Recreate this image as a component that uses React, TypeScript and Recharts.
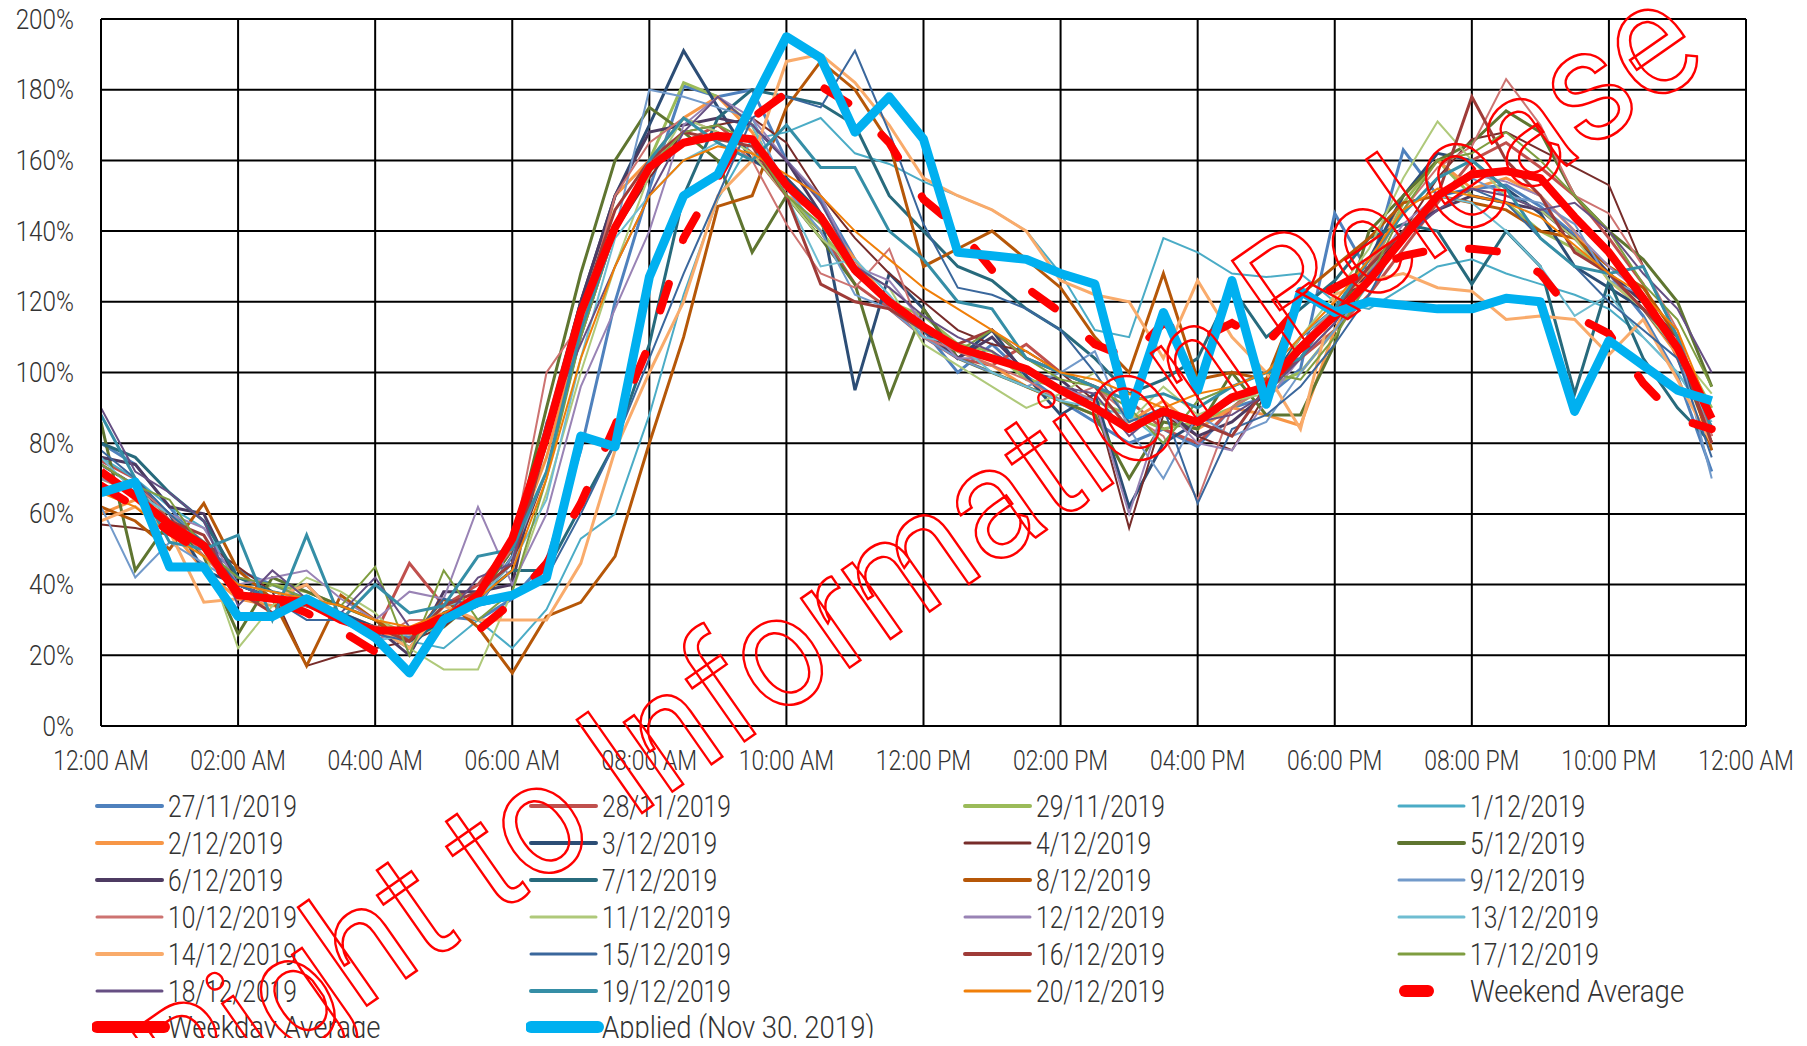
import { LineChart, Line, XAxis, YAxis, CartesianGrid } from "recharts";

// half-hour slots of the day
const slots = [
  "00:00", "00:30", "01:00", "01:30", "02:00", "02:30", "03:00", "03:30",
  "04:00", "04:30", "05:00", "05:30", "06:00", "06:30", "07:00", "07:30",
  "08:00", "08:30", "09:00", "09:30", "10:00", "10:30", "11:00", "11:30",
  "12:00", "12:30", "13:00", "13:30", "14:00", "14:30", "15:00", "15:30",
  "16:00", "16:30", "17:00", "17:30", "18:00", "18:30", "19:00", "19:30",
  "20:00", "20:30", "21:00", "21:30", "22:00", "22:30", "23:00", "23:30",
];

const xTicks = [0, 4, 8, 12, 16, 20, 24, 28, 32, 36, 40, 44, 48];
const xTickLabels = [
  "12:00 AM", "02:00 AM", "04:00 AM", "06:00 AM", "08:00 AM", "10:00 AM", "12:00 PM",
  "02:00 PM", "04:00 PM", "06:00 PM", "08:00 PM", "10:00 PM", "12:00 AM",
];
const yTicks = [0, 20, 40, 60, 80, 100, 120, 140, 160, 180, 200];

// daily profiles (% of mean)
const d2711 = [80, 74, 62, 50, 44, 40, 36, 31, 28, 25, 31, 30, 36, 47, 78, 120, 152, 181, 178, 180, 160, 149, 132, 118, 112, 100, 108, 99, 92, 86, 80, 84, 79, 90, 93, 101, 145, 128, 163, 150, 152, 153, 147, 139, 128, 116, 99, 72];
const d2811 = [75, 70, 58, 52, 40, 36, 34, 30, 26, 46, 34, 40, 52, 85, 120, 140, 160, 165, 170, 162, 150, 140, 125, 118, 110, 104, 102, 108, 100, 96, 92, 84, 80, 90, 98, 104, 112, 122, 135, 148, 160, 165, 158, 150, 138, 125, 104, 82];
const d2911 = [70, 66, 60, 52, 36, 40, 38, 34, 30, 26, 28, 36, 50, 80, 115, 140, 160, 182, 178, 170, 150, 140, 128, 120, 116, 108, 106, 98, 96, 92, 88, 84, 86, 90, 96, 100, 112, 128, 148, 160, 150, 148, 140, 135, 128, 120, 108, 90];
const d0112 = [76, 70, 62, 56, 42, 38, 36, 30, 28, 24, 22, 30, 22, 33, 53, 60, 88, 122, 149, 166, 168, 172, 162, 159, 154, 150, 146, 140, 128, 112, 110, 138, 134, 128, 127, 128, 120, 118, 124, 130, 132, 128, 125, 122, 118, 110, 100, 85];
const d0212 = [60, 64, 56, 44, 36, 34, 34, 32, 28, 26, 30, 36, 50, 76, 112, 150, 160, 172, 178, 168, 150, 145, 132, 120, 112, 106, 102, 96, 92, 88, 86, 92, 84, 90, 88, 85, 112, 130, 150, 160, 152, 155, 150, 140, 126, 118, 105, 80];
const d0312 = [74, 68, 60, 44, 40, 36, 34, 32, 28, 24, 30, 34, 48, 82, 120, 150, 170, 191, 175, 160, 155, 145, 95, 128, 118, 104, 112, 99, 88, 94, 62, 80, 86, 92, 96, 110, 118, 132, 150, 162, 160, 152, 145, 130, 124, 118, 106, 80];
const d0412 = [57, 56, 54, 52, 45, 38, 17, 20, 22, 24, 28, 36, 46, 72, 110, 140, 155, 168, 170, 172, 165, 150, 138, 128, 120, 112, 108, 106, 100, 92, 56, 88, 82, 78, 94, 108, 118, 128, 140, 155, 166, 168, 163, 158, 153, 130, 110, 78];
const d0512 = [86, 44, 58, 48, 26, 42, 38, 34, 30, 22, 34, 36, 50, 90, 128, 160, 175, 168, 160, 134, 150, 138, 125, 93, 118, 104, 100, 96, 92, 88, 70, 86, 84, 100, 88, 88, 108, 140, 150, 160, 165, 174, 168, 150, 140, 132, 120, 96];
const d0612 = [76, 74, 62, 60, 40, 36, 40, 30, 28, 20, 38, 38, 40, 84, 120, 150, 168, 170, 172, 170, 160, 145, 128, 120, 112, 104, 110, 100, 98, 90, 84, 90, 82, 86, 94, 106, 118, 130, 140, 146, 150, 148, 146, 138, 128, 120, 110, 84];
const d0712 = [80, 76, 66, 58, 42, 38, 36, 30, 28, 22, 32, 36, 44, 44, 62, 80, 108, 150, 172, 180, 178, 176, 170, 150, 140, 130, 126, 118, 112, 104, 94, 98, 104, 124, 110, 118, 126, 138, 142, 140, 125, 140, 130, 94, 126, 104, 90, 80];
const d0812 = [62, 58, 50, 63, 44, 36, 17, 37, 30, 24, 36, 28, 15, 31, 35, 48, 80, 110, 147, 150, 175, 188, 180, 165, 130, 135, 140, 132, 124, 110, 100, 128, 98, 100, 98, 122, 130, 138, 148, 150, 148, 146, 140, 138, 130, 124, 110, 78];
const d0912 = [62, 42, 52, 46, 40, 36, 34, 30, 24, 28, 30, 34, 48, 72, 110, 140, 180, 178, 175, 172, 152, 140, 122, 118, 110, 104, 100, 96, 100, 106, 84, 70, 88, 82, 86, 100, 112, 125, 140, 150, 155, 150, 148, 142, 126, 122, 108, 70];
const d1012 = [74, 68, 60, 48, 38, 36, 34, 32, 24, 30, 30, 38, 50, 100, 114, 150, 165, 172, 168, 160, 142, 128, 124, 135, 110, 106, 102, 98, 92, 96, 88, 82, 64, 90, 96, 108, 118, 130, 146, 158, 164, 183, 170, 150, 145, 130, 112, 82];
const d1112 = [72, 64, 58, 50, 22, 34, 42, 38, 32, 22, 16, 16, 38, 66, 100, 130, 156, 172, 168, 162, 150, 138, 130, 124, 108, 102, 96, 90, 94, 100, 86, 96, 88, 92, 94, 110, 122, 135, 155, 171, 160, 150, 146, 138, 126, 118, 106, 94];
const d1212 = [70, 66, 60, 56, 40, 42, 44, 36, 30, 38, 36, 62, 40, 60, 96, 118, 140, 170, 178, 172, 160, 150, 130, 126, 114, 104, 104, 100, 96, 92, 60, 90, 80, 78, 92, 104, 114, 128, 142, 150, 156, 154, 150, 140, 130, 122, 108, 80];
const d1312 = [76, 66, 60, 52, 40, 38, 36, 32, 24, 26, 34, 36, 46, 64, 104, 138, 150, 160, 165, 170, 150, 130, 132, 122, 110, 108, 100, 96, 92, 90, 88, 80, 92, 96, 100, 110, 118, 130, 140, 150, 148, 140, 130, 116, 122, 110, 100, 86];
const d1412 = [58, 62, 55, 35, 36, 36, 40, 30, 28, 22, 34, 30, 30, 30, 46, 78, 100, 120, 150, 160, 188, 190, 182, 170, 155, 150, 146, 140, 126, 122, 120, 104, 126, 110, 100, 84, 122, 126, 128, 124, 123, 115, 116, 115, 105, 115, 98, 80];
const d1512 = [78, 70, 60, 52, 40, 36, 30, 30, 26, 24, 36, 34, 36, 42, 60, 80, 104, 128, 150, 172, 178, 175, 191, 168, 142, 124, 122, 118, 112, 100, 86, 90, 63, 84, 88, 96, 108, 122, 140, 150, 152, 148, 138, 130, 120, 112, 104, 76];
const d1612 = [72, 66, 58, 54, 38, 32, 36, 30, 28, 24, 34, 38, 46, 80, 118, 146, 160, 168, 166, 164, 150, 125, 120, 118, 112, 108, 112, 104, 100, 96, 84, 90, 86, 82, 96, 104, 118, 130, 140, 150, 178, 160, 150, 134, 128, 118, 108, 80];
const d1712 = [74, 68, 64, 50, 42, 40, 36, 34, 45, 20, 44, 30, 38, 70, 110, 140, 158, 168, 170, 165, 150, 142, 128, 120, 112, 106, 112, 104, 98, 96, 90, 80, 92, 96, 100, 98, 110, 126, 146, 160, 162, 168, 160, 150, 140, 125, 115, 96];
const d1812 = [90, 72, 66, 58, 34, 44, 36, 32, 42, 28, 30, 42, 46, 86, 108, 130, 150, 168, 178, 170, 160, 148, 130, 124, 116, 110, 106, 100, 96, 94, 82, 90, 86, 88, 94, 104, 114, 128, 138, 146, 152, 150, 146, 148, 140, 128, 118, 100];
const d1912 = [88, 70, 52, 50, 54, 30, 54, 30, 40, 32, 34, 48, 50, 72, 112, 140, 160, 172, 165, 160, 170, 158, 158, 140, 132, 120, 118, 104, 100, 96, 92, 94, 90, 96, 100, 104, 118, 132, 145, 155, 160, 152, 138, 130, 128, 130, 110, 84];
const d2012 = [66, 62, 54, 48, 40, 38, 36, 34, 30, 28, 32, 36, 44, 70, 104, 130, 150, 160, 164, 162, 156, 150, 140, 132, 124, 118, 112, 106, 100, 98, 94, 90, 94, 96, 100, 110, 120, 132, 146, 152, 150, 148, 144, 136, 128, 122, 112, 88];

const weekendAverage = [68, 62, 55, 49, 38, 36, 32, 27, 21, 26, 31, 27, 35, 46, 63, 85, 108, 138, 155, 172, 179, 181, 175, 165, 149, 141, 129, 124, 117, 108, 104, 114, 109, 114, 108, 119, 124, 129, 133, 135, 135, 134, 128, 116, 111, 97, 87, 84];
const weekdayAverage = [72, 65, 57, 51, 37, 36, 35, 30, 27, 27, 30, 37, 53, 82, 117, 141, 158, 165, 167, 166, 153, 144, 129, 120, 113, 107, 104, 101, 95, 90, 84, 89, 86, 93, 96, 107, 116, 126, 138, 150, 156, 157, 155, 144, 134, 121, 107, 87];
const applied = [66, 69, 45, 45, 31, 31, 36, 31, 25, 15, 30, 35, 37, 42, 82, 79, 127, 150, 156, 176, 195, 189, 168, 178, 166, 134, 133, 132, 128, 125, 88, 117, 95, 126, 91, 123, 117, 120, 119, 118, 118, 121, 120, 89, 109, 102, 95, 92];

const days = [
  { key: "d2711", name: "27/11/2019", color: "#4F81BD", width: 3, values: d2711 },
  { key: "d2811", name: "28/11/2019", color: "#C0504D", width: 3, values: d2811 },
  { key: "d2911", name: "29/11/2019", color: "#9BBB59", width: 3, values: d2911 },
  { key: "d0112", name: "1/12/2019", color: "#4BACC6", width: 2, values: d0112 },
  { key: "d0212", name: "2/12/2019", color: "#F79646", width: 3, values: d0212 },
  { key: "d0312", name: "3/12/2019", color: "#2C4D75", width: 3, values: d0312 },
  { key: "d0412", name: "4/12/2019", color: "#772C2A", width: 2, values: d0412 },
  { key: "d0512", name: "5/12/2019", color: "#5F7530", width: 3, values: d0512 },
  { key: "d0612", name: "6/12/2019", color: "#4D3B62", width: 3, values: d0612 },
  { key: "d0712", name: "7/12/2019", color: "#276A7C", width: 3, values: d0712 },
  { key: "d0812", name: "8/12/2019", color: "#B65708", width: 3, values: d0812 },
  { key: "d0912", name: "9/12/2019", color: "#729ACA", width: 2, values: d0912 },
  { key: "d1012", name: "10/12/2019", color: "#CD7371", width: 2, values: d1012 },
  { key: "d1112", name: "11/12/2019", color: "#AFC97A", width: 2, values: d1112 },
  { key: "d1212", name: "12/12/2019", color: "#9983B5", width: 2, values: d1212 },
  { key: "d1312", name: "13/12/2019", color: "#6FBDD1", width: 2, values: d1312 },
  { key: "d1412", name: "14/12/2019", color: "#F9AB6B", width: 3, values: d1412 },
  { key: "d1512", name: "15/12/2019", color: "#3A679C", width: 2, values: d1512 },
  { key: "d1612", name: "16/12/2019", color: "#9F3B38", width: 3, values: d1612 },
  { key: "d1712", name: "17/12/2019", color: "#7F9D40", width: 2, values: d1712 },
  { key: "d1812", name: "18/12/2019", color: "#664F83", width: 2, values: d1812 },
  { key: "d1912", name: "19/12/2019", color: "#358EA6", width: 3, values: d1912 },
  { key: "d2012", name: "20/12/2019", color: "#F07F09", width: 2, values: d2012 },
];

const chartData = slots.map((slot, i) => {
  const row: Record<string, number | string> = { t: i, slot };
  days.forEach((d) => {
    row[d.key] = d.values[i];
  });
  row.weekend = weekendAverage[i];
  row.weekday = weekdayAverage[i];
  row.applied = applied[i];
  return row;
});

const FONT = "Roboto, 'Open Sans', sans-serif";
const TEXT = "#333";

function XTick(props: any) {
  const { x, y, payload } = props;
  return (
    <g transform={`translate(${x},${y})`}>
      <text x={0} y={0} dy="0.71em" textAnchor="middle" transform="scale(0.85,1)"
        fontFamily={FONT} fontWeight={300} fontSize={27} fill={TEXT}>
        {xTickLabels[xTicks.indexOf(payload.value)]}
      </text>
    </g>
  );
}

function YTick(props: any) {
  const { x, y, payload } = props;
  return (
    <g transform={`translate(${x},${y})`}>
      <text x={0} y={0} dy="0.355em" textAnchor="end" transform="scale(0.9,1)"
        fontFamily={FONT} fontWeight={300} fontSize={27} fill={TEXT}>
        {`${payload.value}%`}
      </text>
    </g>
  );
}

type LegendItem = { name: string; color: string; width: number; kind: "line" | "dash" | "thick" };

const legendItems: LegendItem[] = [
  ...days.map((d) => ({ name: d.name, color: d.color, width: d.width, kind: "line" as const })),
  { name: "Weekend Average", color: "#FF0000", width: 12, kind: "dash" },
  { name: "Weekday Average", color: "#FF0000", width: 12, kind: "thick" },
  { name: "Applied (Nov 30, 2019)", color: "#00B0F0", width: 12, kind: "thick" },
];

function ChartLegend() {
  return (
    <>
      {legendItems.map((item, k) => {
        const row = Math.floor(k / 4);
        const col = k % 4;
        const left = 84 + col * 434;
        const cy = 798 + row * 36.9;
        const x1 = item.kind === "dash" ? 6 : 0;
        const x2 = item.kind === "dash" ? 34 : 70;
        // the date labels are set tighter than the word labels
        const squeeze = item.kind === "line" ? 0.77 : 0.86;
        return (
          <div key={item.name} style={{ position: "absolute", left, top: cy - 17, height: 34, width: 430 }}>
            <svg width={80} height={34} style={{ position: "absolute", left: 0, top: 0 }}>
              <line x1={x1 + 5} x2={x2 + (item.kind === "thick" ? 2 : 0)} y1={17} y2={17}
                stroke={item.color} strokeWidth={item.kind === "line" ? item.width + 1 : item.width}
                strokeLinecap="round" />
            </svg>
            <span style={{
              position: "absolute", left: 76, top: 0, lineHeight: "34px", fontSize: 32,
              fontFamily: FONT, fontWeight: 300, color: TEXT, whiteSpace: "nowrap",
              transform: `scaleX(${squeeze})`, transformOrigin: "left center",
            }}>{item.name}</span>
          </div>
        );
      })}
    </>
  );
}

export default function App() {
  return (
    <div style={{ position: "relative", width: 1790, height: 1030, fontFamily: FONT }}>
      <style>{"body{overflow:hidden} .recharts-surface{overflow:visible}"}</style>
      <LineChart width={1790} height={780} data={chartData}
        margin={{ top: 11, right: 52, bottom: 8, left: 0 }}>
        <CartesianGrid stroke="#000" strokeWidth={2} />
        <XAxis dataKey="t" type="number" domain={[0, 48]} ticks={xTicks} height={54}
          tickLine={false} tickSize={0} tickMargin={25} axisLine={{ stroke: "#000", strokeWidth: 2 }}
          tick={<XTick />} interval={0} allowDataOverflow />
        <YAxis domain={[0, 200]} ticks={yTicks} width={93} tickLine={false} tickSize={0}
          tickMargin={27} axisLine={{ stroke: "#000", strokeWidth: 2 }} tick={<YTick />}
          interval={0} allowDataOverflow />
        {days.map((d) => (
          <Line key={d.key} dataKey={d.key} name={d.name} stroke={d.color} strokeWidth={d.width}
            dot={false} activeDot={false} type="linear" isAnimationActive={false} />
        ))}
        <Line dataKey="weekend" name="Weekend Average" stroke="#FF0000" strokeWidth={8}
          strokeDasharray="28 46" strokeLinecap="round" dot={false} activeDot={false}
          type="linear" isAnimationActive={false} />
        <Line dataKey="weekday" name="Weekday Average" stroke="#FF0000" strokeWidth={8}
          strokeLinejoin="round" dot={false} activeDot={false} type="linear" isAnimationActive={false} />
        <Line dataKey="applied" name="Applied (Nov 30, 2019)" stroke="#00B0F0" strokeWidth={9}
          strokeLinejoin="round" dot={false} activeDot={false} type="linear" isAnimationActive={false} />
      </LineChart>
      <ChartLegend />
      <svg width={1790} height={1030} style={{ position: "absolute", left: 0, top: 0, overflow: "visible", pointerEvents: "none" }}>
        <g transform="translate(941 590) rotate(-35) scale(0.92 1)">
          <text x={0} y={0} textAnchor="middle" fontFamily="Roboto, sans-serif" fontSize={160}
            fill="none" stroke="#FF0000" strokeWidth={2.5}>
            Right to Information Release
          </text>
        </g>
      </svg>
    </div>
  );
}
